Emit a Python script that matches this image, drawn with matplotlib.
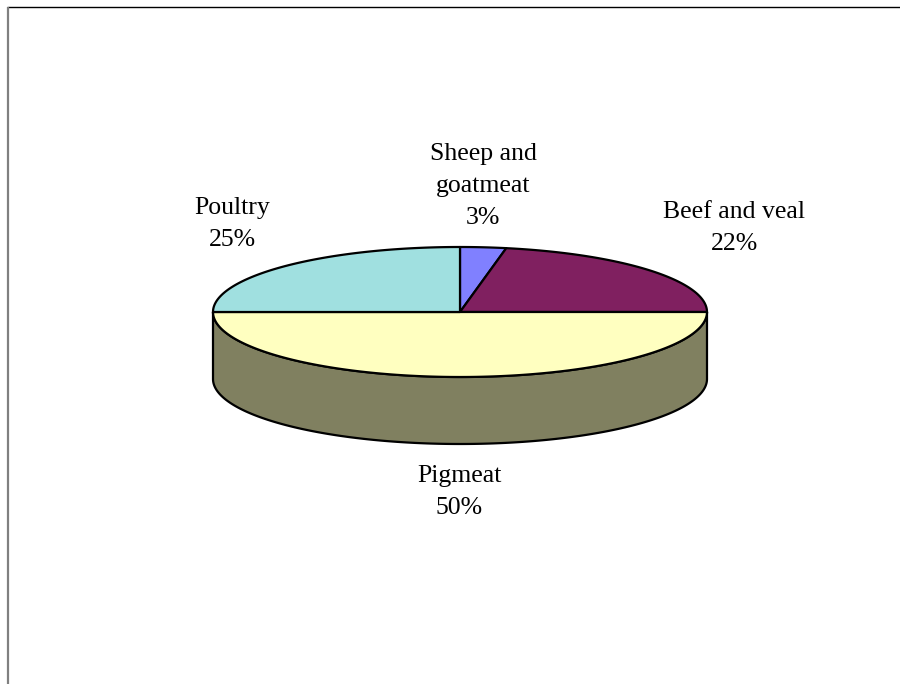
import numpy as np
import matplotlib.pyplot as plt
from matplotlib.patches import Polygon

# meat production shares, clockwise from 12 o'clock
names = ['Sheep and\ngoatmeat', 'Beef and veal', 'Pigmeat', 'Poultry']
shares = [3, 22, 50, 25]
colors = ['#8080FF', '#802060', '#FFFFC0', '#A0E0E0']

# label anchors (pixel space)
label_xy = [(483, 186), (734, 228), (459, 492), (232, 224)]

W, H = 900, 684
cx, cy = 460, 312      # centre of the top face
rx, ry = 247, 65       # ellipse radii
depth = 67             # thickness of the pie


def rim(t):
    # t measured clockwise from the top, in radians
    return cx + rx*np.sin(t), cy - ry*np.cos(t)


def darker(c, f=0.5):
    c = c.lstrip('#')
    rgb = [int(c[i:i+2], 16)/255*f for i in (0, 2, 4)]
    return tuple(rgb)


fig = plt.figure(figsize=(9, 6.84), dpi=100)
ax = fig.add_axes([0, 0, 1, 1])
ax.set_xlim(0, W)
ax.set_ylim(H, 0)
ax.axis('off')

plt.rcParams['font.family'] = ['Liberation Serif', 'DejaVu Serif']

fr = np.array(shares)/np.sum(shares)
edges = np.concatenate([[0], np.cumsum(fr)])*2*np.pi

# side wall: only the front half (pi/2 .. 3pi/2) is visible
for i in range(len(shares)):
    a0 = max(edges[i], np.pi/2)
    a1 = min(edges[i+1], 3*np.pi/2)
    if a1 <= a0:
        continue
    t = np.linspace(a0, a1, 200)
    x, y = rim(t)
    xs = np.concatenate([x, x[::-1]])
    ys = np.concatenate([y, (y + depth)[::-1]])
    ax.add_patch(Polygon(np.column_stack([xs, ys]), closed=True,
                         fc=darker(colors[i]), ec='black', lw=1.6,
                         joinstyle='round'))

# top face wedges
for i in range(len(shares)):
    t = np.linspace(edges[i], edges[i+1], 200)
    x, y = rim(t)
    xs = np.concatenate([[cx], x])
    ys = np.concatenate([[cy], y])
    ax.add_patch(Polygon(np.column_stack([xs, ys]), closed=True,
                         fc=colors[i], ec='black', lw=1.6, joinstyle='round'))

for i, txt in enumerate(names):
    lx, ly = label_xy[i]
    ax.text(lx, ly, '%s\n%d%%' % (txt, shares[i]), ha='center', va='center',
            fontsize=18.5, linespacing=1.58, color='black')

# chart area border
ax.plot([7, W], [7, 7], color='black', lw=1.0, solid_capstyle='butt')
ax.plot([8, 8], [7, H], color='#808080', lw=1.6, solid_capstyle='butt')

plt.savefig('out.png', dpi=100)
